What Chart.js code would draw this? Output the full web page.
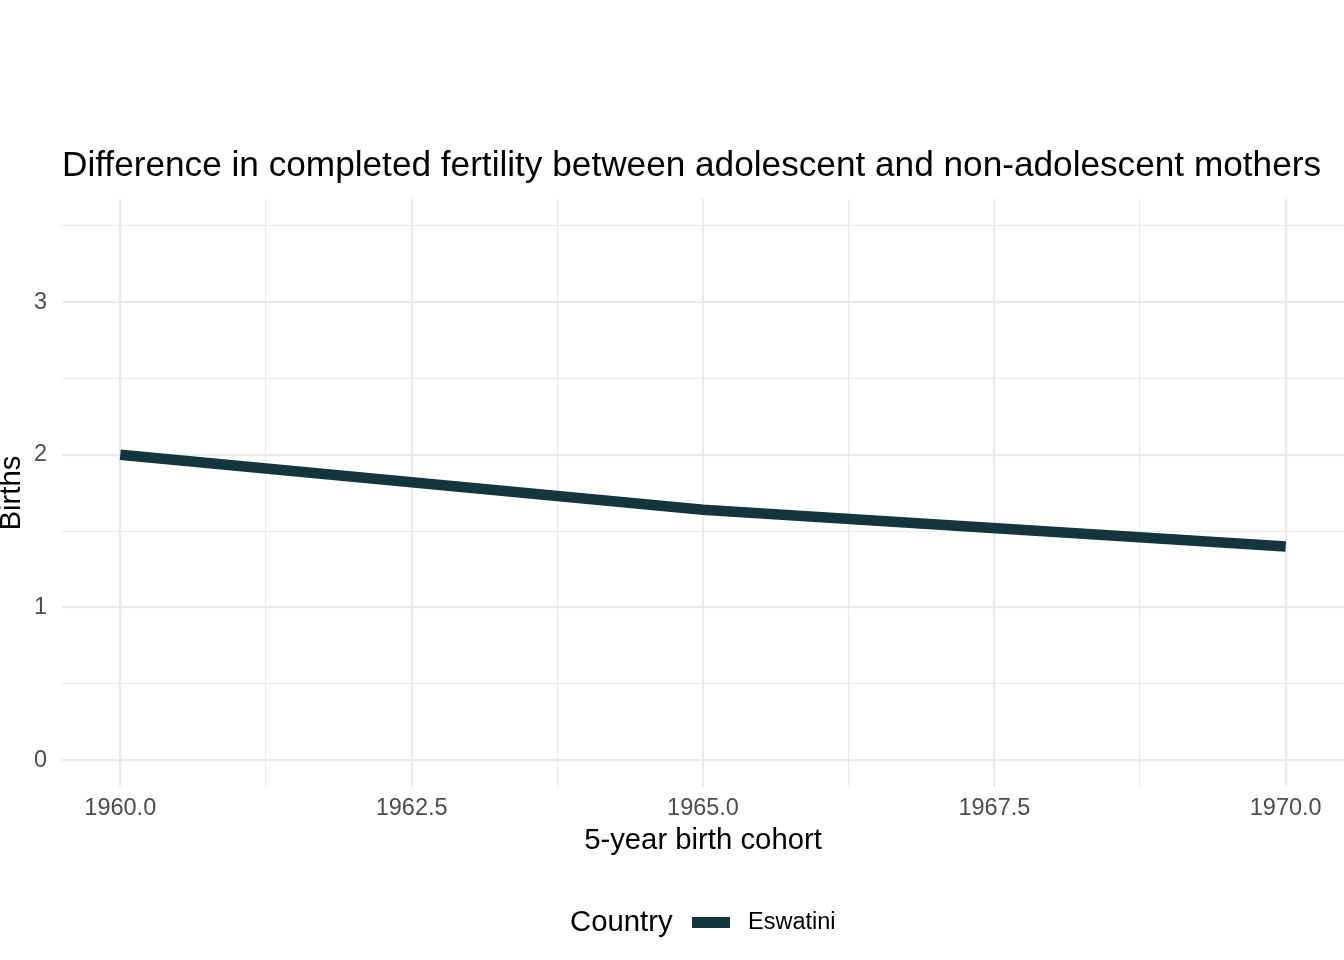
<!DOCTYPE html>
<html>
<head>
<meta charset="utf-8">
<script src="https://cdn.jsdelivr.net/npm/chart.js@4"></script>
<style>
  html, body { margin: 0; padding: 0; background: #fff; }
  #wrap { width: 1344px; height: 960px; }
</style>
</head>
<body>
<div id="wrap"><canvas id="fertChart" width="1344" height="960"></canvas></div>
<script>
// cohort data
const cohorts = [1960, 1965, 1970];
const eswatiniBirths = [2.00, 1.64, 1.40];
const xTickValues = [1960, 1961.25, 1962.5, 1963.75, 1965, 1966.25, 1967.5, 1968.75, 1970];
const yTickValues = [0, 0.5, 1, 1.5, 2, 2.5, 3, 3.5];

const lineColor = "#14343E";
const gridColor = "#EBEBEB";
const FONT = "'Liberation Sans', Arial, Helvetica, sans-serif";

// title + legend drawn at fixed spots, ggplot style
const ggExtras = {
  id: "ggExtras",
  afterDraw(chart) {
    const ctx = chart.ctx;
    ctx.save();
    ctx.fillStyle = "#000";
    ctx.textBaseline = "middle";
    ctx.textAlign = "left";
    ctx.font = "35.2px " + FONT;
    ctx.fillText("Difference in completed fertility between adolescent and non-adolescent mothers", chart.chartArea.left, 166);

    ctx.font = "29.3px " + FONT;
    ctx.fillText("Country", 570, 923);
    ctx.fillStyle = lineColor;
    ctx.fillRect(692, 917, 38, 11);
    ctx.fillStyle = "#000";
    ctx.font = "23.5px " + FONT;
    ctx.fillText("Eswatini", 748, 923);
    ctx.restore();
  }
};

const isMajor = v => Math.abs(v / 2.5 - Math.round(v / 2.5)) < 1e-6;

new Chart(document.getElementById("fertChart").getContext("2d"), {
  type: "line",
  data: {
    datasets: [{
      label: "Eswatini",
      data: cohorts.map((c, i) => ({ x: c, y: eswatiniBirths[i] })),
      borderColor: lineColor,
      backgroundColor: lineColor,
      borderWidth: 10.5,
      borderCapStyle: "butt",
      pointRadius: 0,
      tension: 0
    }]
  },
  options: {
    responsive: false,
    animation: false,
    layout: { padding: { top: 199, left: 0, right: 0, bottom: 102 } },
    plugins: {
      legend: { display: false },
      tooltip: { enabled: false },
      title: { display: false }
    },
    scales: {
      x: {
        type: "linear",
        min: 1959.5,
        max: 1970.5,
        afterBuildTicks: scale => { scale.ticks = xTickValues.map(v => ({ value: v })); },
        afterFit: scale => { scale.height = 71; },
        border: { display: false },
        grid: {
          color: gridColor,
          drawTicks: false,
          lineWidth: ctx => (ctx.tick && isMajor(ctx.tick.value)) ? 2.2 : 1.1
        },
        ticks: {
          padding: 7,
          maxRotation: 0,
          autoSkip: false,
          color: "#4D4D4D",
          font: { family: FONT, size: 23.5 },
          callback: v => isMajor(v) ? v.toFixed(1) : ""
        },
        title: {
          display: true,
          text: "5-year birth cohort",
          color: "#000",
          padding: 0,
          font: { family: FONT, size: 29.3, lineHeight: 1.2 }
        }
      },
      y: {
        type: "linear",
        min: -0.175,
        max: 3.675,
        afterBuildTicks: scale => { scale.ticks = yTickValues.map(v => ({ value: v })); },
        afterFit: scale => { scale.width = 62; },
        border: { display: false },
        grid: {
          color: gridColor,
          drawTicks: false,
          lineWidth: ctx => (ctx.tick && Number.isInteger(ctx.tick.value)) ? 2.2 : 1.1
        },
        ticks: {
          padding: 15,
          autoSkip: false,
          color: "#4D4D4D",
          font: { family: FONT, size: 23.5 },
          callback: v => Number.isInteger(v) ? String(v) : ""
        },
        title: {
          display: true,
          text: "Births",
          color: "#000",
          padding: 0,
          font: { family: FONT, size: 29.3, lineHeight: 0.8 }
        }
      }
    }
  },
  plugins: [ggExtras]
});
</script>
</body>
</html>
